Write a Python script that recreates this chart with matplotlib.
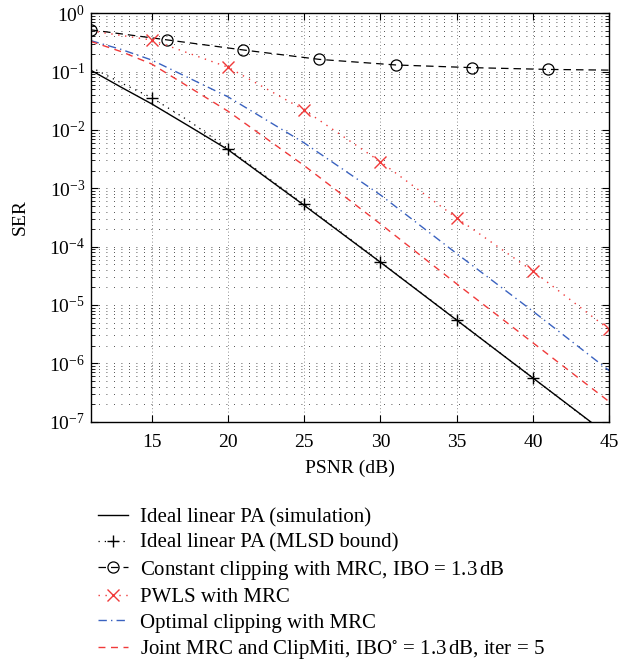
import numpy as np
import matplotlib
matplotlib.use("Agg")
import matplotlib.pyplot as plt
from matplotlib.ticker import LogLocator, NullFormatter, FixedLocator
from matplotlib.legend_handler import HandlerLine2D

plt.rcParams['font.family'] = ['Liberation Serif', 'DejaVu Serif']
plt.rcParams['mathtext.fontset'] = 'stix'

# ---------------- data ----------------
# ideal linear PA (simulation), solid black
psnr_sim = [11, 13, 15, 17.5, 20, 25, 30, 35, 40, 45]
ser_sim = [0.106, 0.054, 0.028, 0.0114, 4.6e-3, 5.1e-4, 5.4e-5, 5.5e-6, 5.6e-7, 5.7e-8]

# ideal linear PA (MLSD bound), + dotted
psnr_mlsd = [11, 13, 15, 17.5, 20, 25, 30, 35, 40, 45]
ser_mlsd = [0.12, 0.064, 0.0357, 0.014, 4.8e-3, 5.3e-4, 5.5e-5, 5.6e-6, 5.6e-7, 5.6e-8]
mlsd_marks = [2, 4, 5, 6, 7, 8]

# constant clipping with MRC, o dashed
psnr_const = [11, 16, 21, 26, 31, 36, 41, 45]
ser_const = [0.52, 0.35, 0.235, 0.162, 0.13, 0.117, 0.109, 0.106]
const_marks = [0, 1, 2, 3, 4, 5, 6]

# PWLS with MRC, x dotted red
psnr_pwls = [11, 15, 20, 25, 30, 35, 40, 45]
ser_pwls = [0.5, 0.348, 0.119, 0.022, 2.85e-3, 3.1e-4, 3.8e-5, 3.8e-6]
pwls_marks = [1, 2, 3, 4, 5, 6, 7]

# optimal clipping with MRC, dash-dot blue
psnr_opt = [11, 13, 15, 20, 25, 30, 35, 40, 45]
ser_opt = [0.34, 0.24, 0.158, 0.037, 6e-3, 7.7e-4, 7.6e-5, 7.8e-6, 7.5e-7]

# joint MRC and ClipMiti, dashed red
psnr_joint = [11, 13, 15, 20, 25, 30, 35, 40, 45]
ser_joint = [0.33, 0.22, 0.135, 0.021, 2.45e-3, 2.45e-4, 2.3e-5, 2.25e-6, 2.2e-7]

labels = ['Ideal linear PA (simulation)',
          'Ideal linear PA (MLSD bound)',
          'Constant clipping with MRC, IBO = 1.3$\\,$dB',
          'PWLS with MRC',
          'Optimal clipping with MRC',
          'Joint MRC and ClipMiti, IBO$^{\\circ}$ = 1.3$\\,$dB, iter = 5']

red = '#f03a3a'
blue = '#3a62c0'

# ---------------- plot ----------------
fig = plt.figure(figsize=(6.21, 6.63), dpi=100)
ax = fig.add_axes([0.146, 0.364, 0.835, 0.616])

h1, = ax.semilogy(psnr_sim, ser_sim, '-', color='k', lw=1.0)
h2, = ax.semilogy(psnr_mlsd, ser_mlsd, linestyle=(0, (1, 4)), color='k', lw=0.9,
                  marker='+', ms=9, mew=1.0, markevery=mlsd_marks)
h3, = ax.semilogy(psnr_const, ser_const, linestyle=(0, (6, 4)), color='k', lw=0.9,
                  marker='o', ms=8, mfc='none', mew=0.9, markevery=const_marks)
h4, = ax.semilogy(psnr_pwls, ser_pwls, linestyle=(0, (1, 4)), color=red, lw=1.0,
                  marker='x', ms=9, mew=1.0, markevery=pwls_marks)
h5, = ax.semilogy(psnr_opt, ser_opt, linestyle=(0, (6, 3, 1, 3)), color=blue, lw=1.0)
h6, = ax.semilogy(psnr_joint, ser_joint, linestyle=(0, (5, 4)), color=red, lw=1.0)

ax.set_xlim(11, 45)
ax.set_ylim(1e-7, 1)
ax.xaxis.set_major_locator(FixedLocator([15, 20, 25, 30, 35, 40, 45]))
ax.yaxis.set_major_locator(LogLocator(base=10, numticks=10))
ax.yaxis.set_minor_locator(LogLocator(base=10, subs=np.arange(2, 10), numticks=20))
ax.yaxis.set_minor_formatter(NullFormatter())

ax.grid(True, which='major', axis='x', color='0.4', lw=0.6, linestyle=(0, (1, 3)))
ax.grid(True, which='both', axis='y', color='0.1', lw=0.6, linestyle=(0, (1, 8)))

ax.tick_params(which='both', direction='in', top=True, right=True, labelsize=14)
ax.tick_params(which='major', length=5, width=0.8)
ax.tick_params(which='minor', length=3, width=0.6)
ax.tick_params(axis='x', pad=9)
ax.tick_params(axis='y', pad=4)
for s in ax.spines.values():
    s.set_linewidth(1.0)

ax.set_xlabel('PSNR (dB)', fontsize=14, labelpad=6)
ax.set_ylabel('SER', fontsize=14, labelpad=15)


class LeftMarker(HandlerLine2D):
    def get_xdata(self, legend, xdescent, ydescent, width, height, fontsize):
        xdata = np.array([-xdescent, -xdescent + width])
        return xdata, np.array([-xdescent + 0.22 * width])


fig.legend([h1, h2, h3, h4, h5, h6], labels, loc='upper left',
           bbox_to_anchor=(0.158, 0.234), frameon=False, fontsize=15,
           handlelength=1.45, handletextpad=0.55, labelspacing=0.28,
           borderaxespad=0, borderpad=0,
           handler_map={h: LeftMarker(numpoints=1) for h in [h1, h2, h3, h4, h5, h6]})

fig.savefig('out.png', dpi=100)
